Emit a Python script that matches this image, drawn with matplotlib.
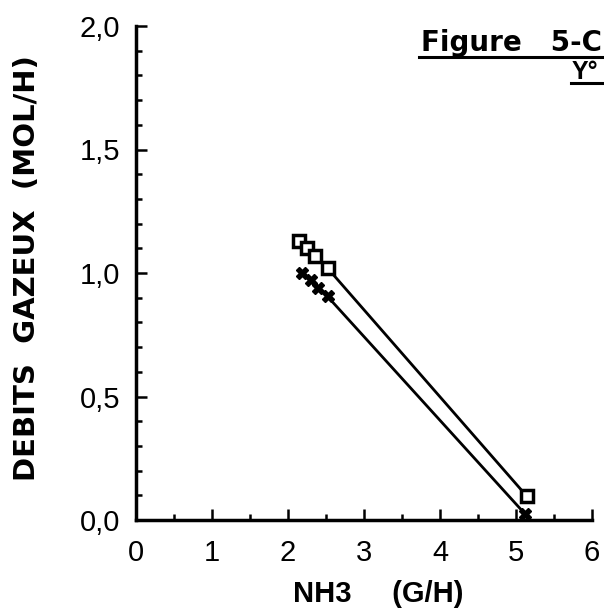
import matplotlib
matplotlib.use("Agg")
import matplotlib.pyplot as plt
from matplotlib.ticker import MultipleLocator
from matplotlib.lines import Line2D

# Data
nh3_sq = [2.14, 2.25, 2.36, 2.52, 5.14]
gas_sq = [1.13, 1.10, 1.07, 1.02, 0.097]
nh3_st = [2.18, 2.30, 2.40, 2.52, 5.12]
gas_st = [1.00, 0.97, 0.94, 0.905, 0.024]

xticks = [0, 1, 2, 3, 4, 5, 6]
xticklabels = ["0", "1", "2", "3", "4", "5", "6"]
yticks = [0.0, 0.5, 1.0, 1.5, 2.0]
yticklabels = ["0,0", "0,5", "1,0", "1,5", "2,0"]

plt.rcParams['font.family'] = ['Liberation Sans', 'DejaVu Sans']

fig = plt.figure(figsize=(6.04, 6.11), dpi=100)
W, H = 604, 611
x0, x1 = 136, 592
y0, y1 = 520, 26
ax = fig.add_axes([x0 / W, 1 - y0 / H, (x1 - x0) / W, (y0 - y1) / H])
ax.set_xlim(0, 6)
ax.set_ylim(0, 2.0)

ax.plot(nh3_sq, gas_sq, color='black', lw=2.0, marker='s', ms=9,
        mfc='white', mec='black', mew=2.5, clip_on=False, zorder=3)
ax.plot(nh3_st, gas_st, color='black', lw=2.0, marker='X', ms=9,
        mfc='black', mec='black', mew=1.0, clip_on=False, zorder=3)

for s in ['top', 'right']:
    ax.spines[s].set_visible(False)
for s in ['left', 'bottom']:
    ax.spines[s].set_linewidth(2.5)

ax.set_xticks(xticks)
ax.set_xticklabels(xticklabels)
ax.set_yticks(yticks)
ax.set_yticklabels(yticklabels)
ax.xaxis.set_minor_locator(MultipleLocator(0.5))
ax.yaxis.set_minor_locator(MultipleLocator(0.1))
ax.tick_params(which='major', direction='in', length=8, width=1.8, labelsize=21)
ax.tick_params(which='minor', direction='in', length=4.5, width=1.8)
ax.tick_params(axis='x', which='major', pad=14)
ax.tick_params(axis='y', which='major', pad=11.5)

fig.text(378 / W, 1 - 594 / H, "NH3     (G/H)", ha='center', va='center',
         fontsize=21, fontweight='bold')
fig.text(27 / W, 1 - 268 / H, "DEBITS  GAZEUX  (MOL/H)", ha='center', va='center',
         rotation=90, fontsize=21, fontweight='bold', family='DejaVu Sans')

fig.text(421 / W, 1 - 51 / H, "Figure   5-C", ha='left', va='baseline',
         fontsize=20, fontweight='bold', family='DejaVu Sans')
fig.add_artist(Line2D([419 / W, 1.0], [1 - 57 / H, 1 - 57 / H], color='black', lw=2.2,
                      transform=fig.transFigure))
fig.text(572 / W, 1 - 79 / H, "Y°", ha='left', va='baseline',
         fontsize=18, fontweight='bold')
fig.add_artist(Line2D([571 / W, 1.0], [1 - 83 / H, 1 - 83 / H], color='black', lw=2.2,
                      transform=fig.transFigure))

fig.savefig("out.png", dpi=100, facecolor='white')
